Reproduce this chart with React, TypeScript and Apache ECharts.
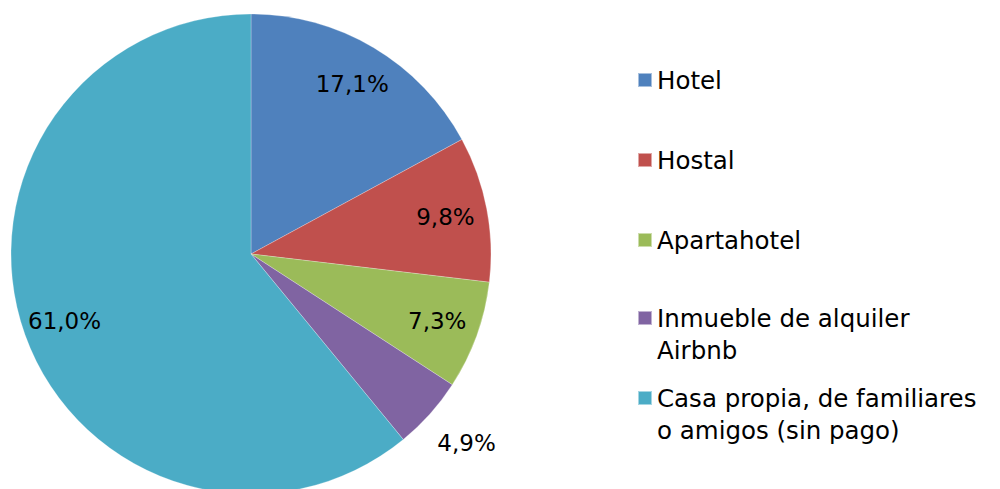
import React, { useEffect, useRef } from "react";
import * as echarts from "echarts";

const categories = [
  "Hotel",
  "Hostal",
  "Apartahotel",
  "Inmueble de alquiler Airbnb",
  "Casa propia, de familiares o amigos (sin pago)",
];
const values = [17.1, 9.8, 7.3, 4.9, 61.0];
const valueLabels = ["17,1%", "9,8%", "7,3%", "4,9%", "61,0%"];
const legendLines: Record<string, string> = {
  "Inmueble de alquiler Airbnb": " \nInmueble de alquiler\nAirbnb",
  "Casa propia, de familiares o amigos (sin pago)": " \nCasa propia, de familiares\no amigos (sin pago)",
};
const colors = ["#4F81BD", "#C0504D", "#9BBB59", "#8064A2", "#4BACC6"];
const legendCenters = [80, 160, 240, 318, 398];

const FONT = "DejaVu Sans";
const LH = 32;

export default function App() {
  const ref = useRef<HTMLDivElement>(null);
  useEffect(() => {
    if (!ref.current) return;
    const chart = echarts.init(ref.current, undefined, { renderer: "svg" });
    const data = categories.map((name, i) => ({
      name,
      value: values[i],
      itemStyle: { color: colors[i] },
    }));
    const labelData = categories.map((name, i) => ({
      name,
      value: values[i],
      label: i === 3 ? { offset: [68, 57] } : {},
    }));
    const legends = categories.map((name, i) => {
      const multi = !!legendLines[name];
      return {
        data: [name],
        orient: "vertical",
        left: 637,
        top: multi ? legendCenters[i] - 1.5 * LH : legendCenters[i] - LH / 2,
        padding: 0,
        itemWidth: 14,
        itemHeight: 14,
        icon: "rect",
        selectedMode: false,
        formatter: (n: string) => legendLines[n] || n,
        textStyle: {
          fontFamily: FONT,
          fontSize: 24.5,
          color: "#000",
          lineHeight: LH,
        },
      };
    });
    chart.setOption({
      animation: false,
      color: colors,
      legend: legends,
      series: [
        {
          type: "pie",
          center: [251, 254],
          radius: [0, 240],
          startAngle: 90,
          clockwise: true,
          data,
          label: { show: false },
          labelLine: { show: false },
          itemStyle: { borderColor: "rgba(255,255,255,0.5)", borderWidth: 0.5 },
          emphasis: { disabled: true },
          silent: true,
        },
        {
          type: "pie",
          center: [251, 254],
          radius: [150, 240],
          startAngle: 90,
          clockwise: true,
          data: labelData,
          itemStyle: { color: "transparent" },
          label: {
            show: true,
            position: "inside",
            formatter: (p: any) => valueLabels[p.dataIndex],
            fontFamily: FONT,
            fontSize: 23,
            color: "#000",
          },
          labelLine: { show: false },
          emphasis: { disabled: true },
          silent: true,
        },
      ],
    });
    return () => chart.dispose();
  }, []);
  return (
    <div
      ref={ref}
      style={{ position: "fixed", left: 0, top: 0, width: 1000, height: 489, background: "#fff" }}
    />
  );
}
